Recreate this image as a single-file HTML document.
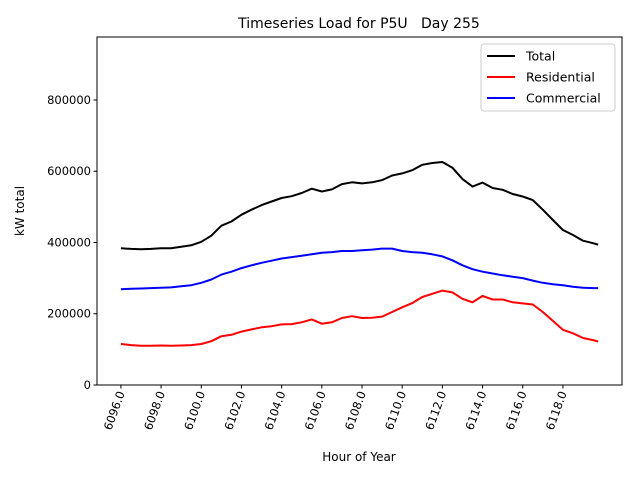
<!DOCTYPE html>
<html><head><meta charset="utf-8"><style>
body{margin:0;background:#fff;}
svg{display:block;font-family:"DejaVu Sans","Liberation Sans",sans-serif;}
</style></head><body>
<svg id="chart" width="640" height="480">
<rect width="640" height="480" fill="#fff"/>
<text x="359" y="28" font-size="14" text-anchor="middle" style="white-space:pre" xml:space="preserve">Timeseries Load for P5U   Day 255</text>
<text transform="translate(24,211) rotate(-90)" font-size="12" text-anchor="middle">kW total</text>
<text x="359" y="461" font-size="12" text-anchor="middle">Hour of Year</text>
<g id="plot"></g>
</svg>
<script>
const hours=[6096,6096.5,6097,6097.5,6098,6098.5,6099,6099.5,6100,6100.5,6101,6101.5,6102,6102.5,6103,6103.5,6104,6104.5,6105,6105.5,6106,6106.5,6107,6107.5,6108,6108.5,6109,6109.5,6110,6110.5,6111,6111.5,6112,6112.5,6113,6113.5,6114,6114.5,6115,6115.5,6116,6116.5,6117,6117.5,6118,6118.5,6119,6119.5,6119.75];
const total=[384,382,381,382,384,384,388,392,402,419,447,459,478,492,505,515,525,530,539,551,543,549,564,569,566,569,575,588,594,603,618,623,626,610,578,557,568,553,548,536,529,519,492,463,435,421,405,398,394];
const residential=[115,112,110,110,111,110,111,112,115,123,137,141,150,156,162,165,170,171,176,184,172,176,188,193,188,189,192,205,218,230,247,256,265,260,242,232,250,240,240,232,229,226,205,180,155,145,132,126,122];
const commercial=[269,270,271,272,273,274,277,280,287,296,310,318,328,336,343,349,355,359,363,367,371,373,376,376,378,380,383,383,376,373,371,367,361,350,336,325,318,313,308,304,300,293,287,283,280,276,273,272,272];
const yTicks=[0,200000,400000,600000,800000];
const xTicks=[6096,6098,6100,6102,6104,6106,6108,6110,6112,6114,6116,6118];
const L=97,R=622,T=37,B=385;
const xMin=6094.81,xMax=6120.94,yMax=976800;
const X=v=>L+(v-xMin)/(xMax-xMin)*(R-L);
const Y=v=>B-v/yMax*(B-T);
const NS="http://www.w3.org/2000/svg";
const g=document.getElementById('plot');
function mk(t,a,p){const e=document.createElementNS(NS,t);for(const k in a)e.setAttribute(k,a[k]);(p||g).appendChild(e);return e;}
const frame=mk('rect',{x:L,y:T,width:R-L,height:B-T,fill:'none',stroke:'#000','stroke-width':1});


yTicks.forEach(v=>{
  const y=Y(v);
  mk('line',{x1:L-3.5,x2:L,y1:y,y2:y,stroke:'#000'});
  const t=mk('text',{x:L-6,y:y+4,'font-size':11.5,'text-anchor':'end'});
  t.textContent=String(v);
  
  
});
xTicks.forEach(v=>{
  const x=X(v);
  mk('line',{x1:x,x2:x,y1:B,y2:B+3.5,stroke:'#000'});
  const t=mk('text',{transform:`translate(${x+4},${B+8}) rotate(-70)`,'font-size':11.5,'text-anchor':'end'});
  t.textContent=v.toFixed(1);
  
  
});
function line(vals,color,name){
  const d=vals.map((v,i)=>(i?'L':'M')+X(hours[i]).toFixed(1)+','+Y(v*1000).toFixed(1)).join('');
  const p=mk('path',{d:d,fill:'none',stroke:color,'stroke-width':2,'stroke-linejoin':'round'});
  
  
}
line(total,'#000','total-line');
line(residential,'#ff0000','residential-line');
line(commercial,'#0000ff','commercial-line');
const lg=mk('g',{});


mk('rect',{x:481,y:44,width:134,height:67,rx:3,fill:'#fff',stroke:'#ccc'},lg);
[['Total','#000'],['Residential','#ff0000'],['Commercial','#0000ff']].forEach((e,i)=>{
  const y=56+i*21;
  mk('line',{x1:487,x2:515,y1:y,y2:y,stroke:e[1],'stroke-width':2},lg);
  const t=mk('text',{x:526,y:y+4.5,'font-size':12.5},lg);
  t.textContent=e[0];
  
  
});
</script>
</body></html>
